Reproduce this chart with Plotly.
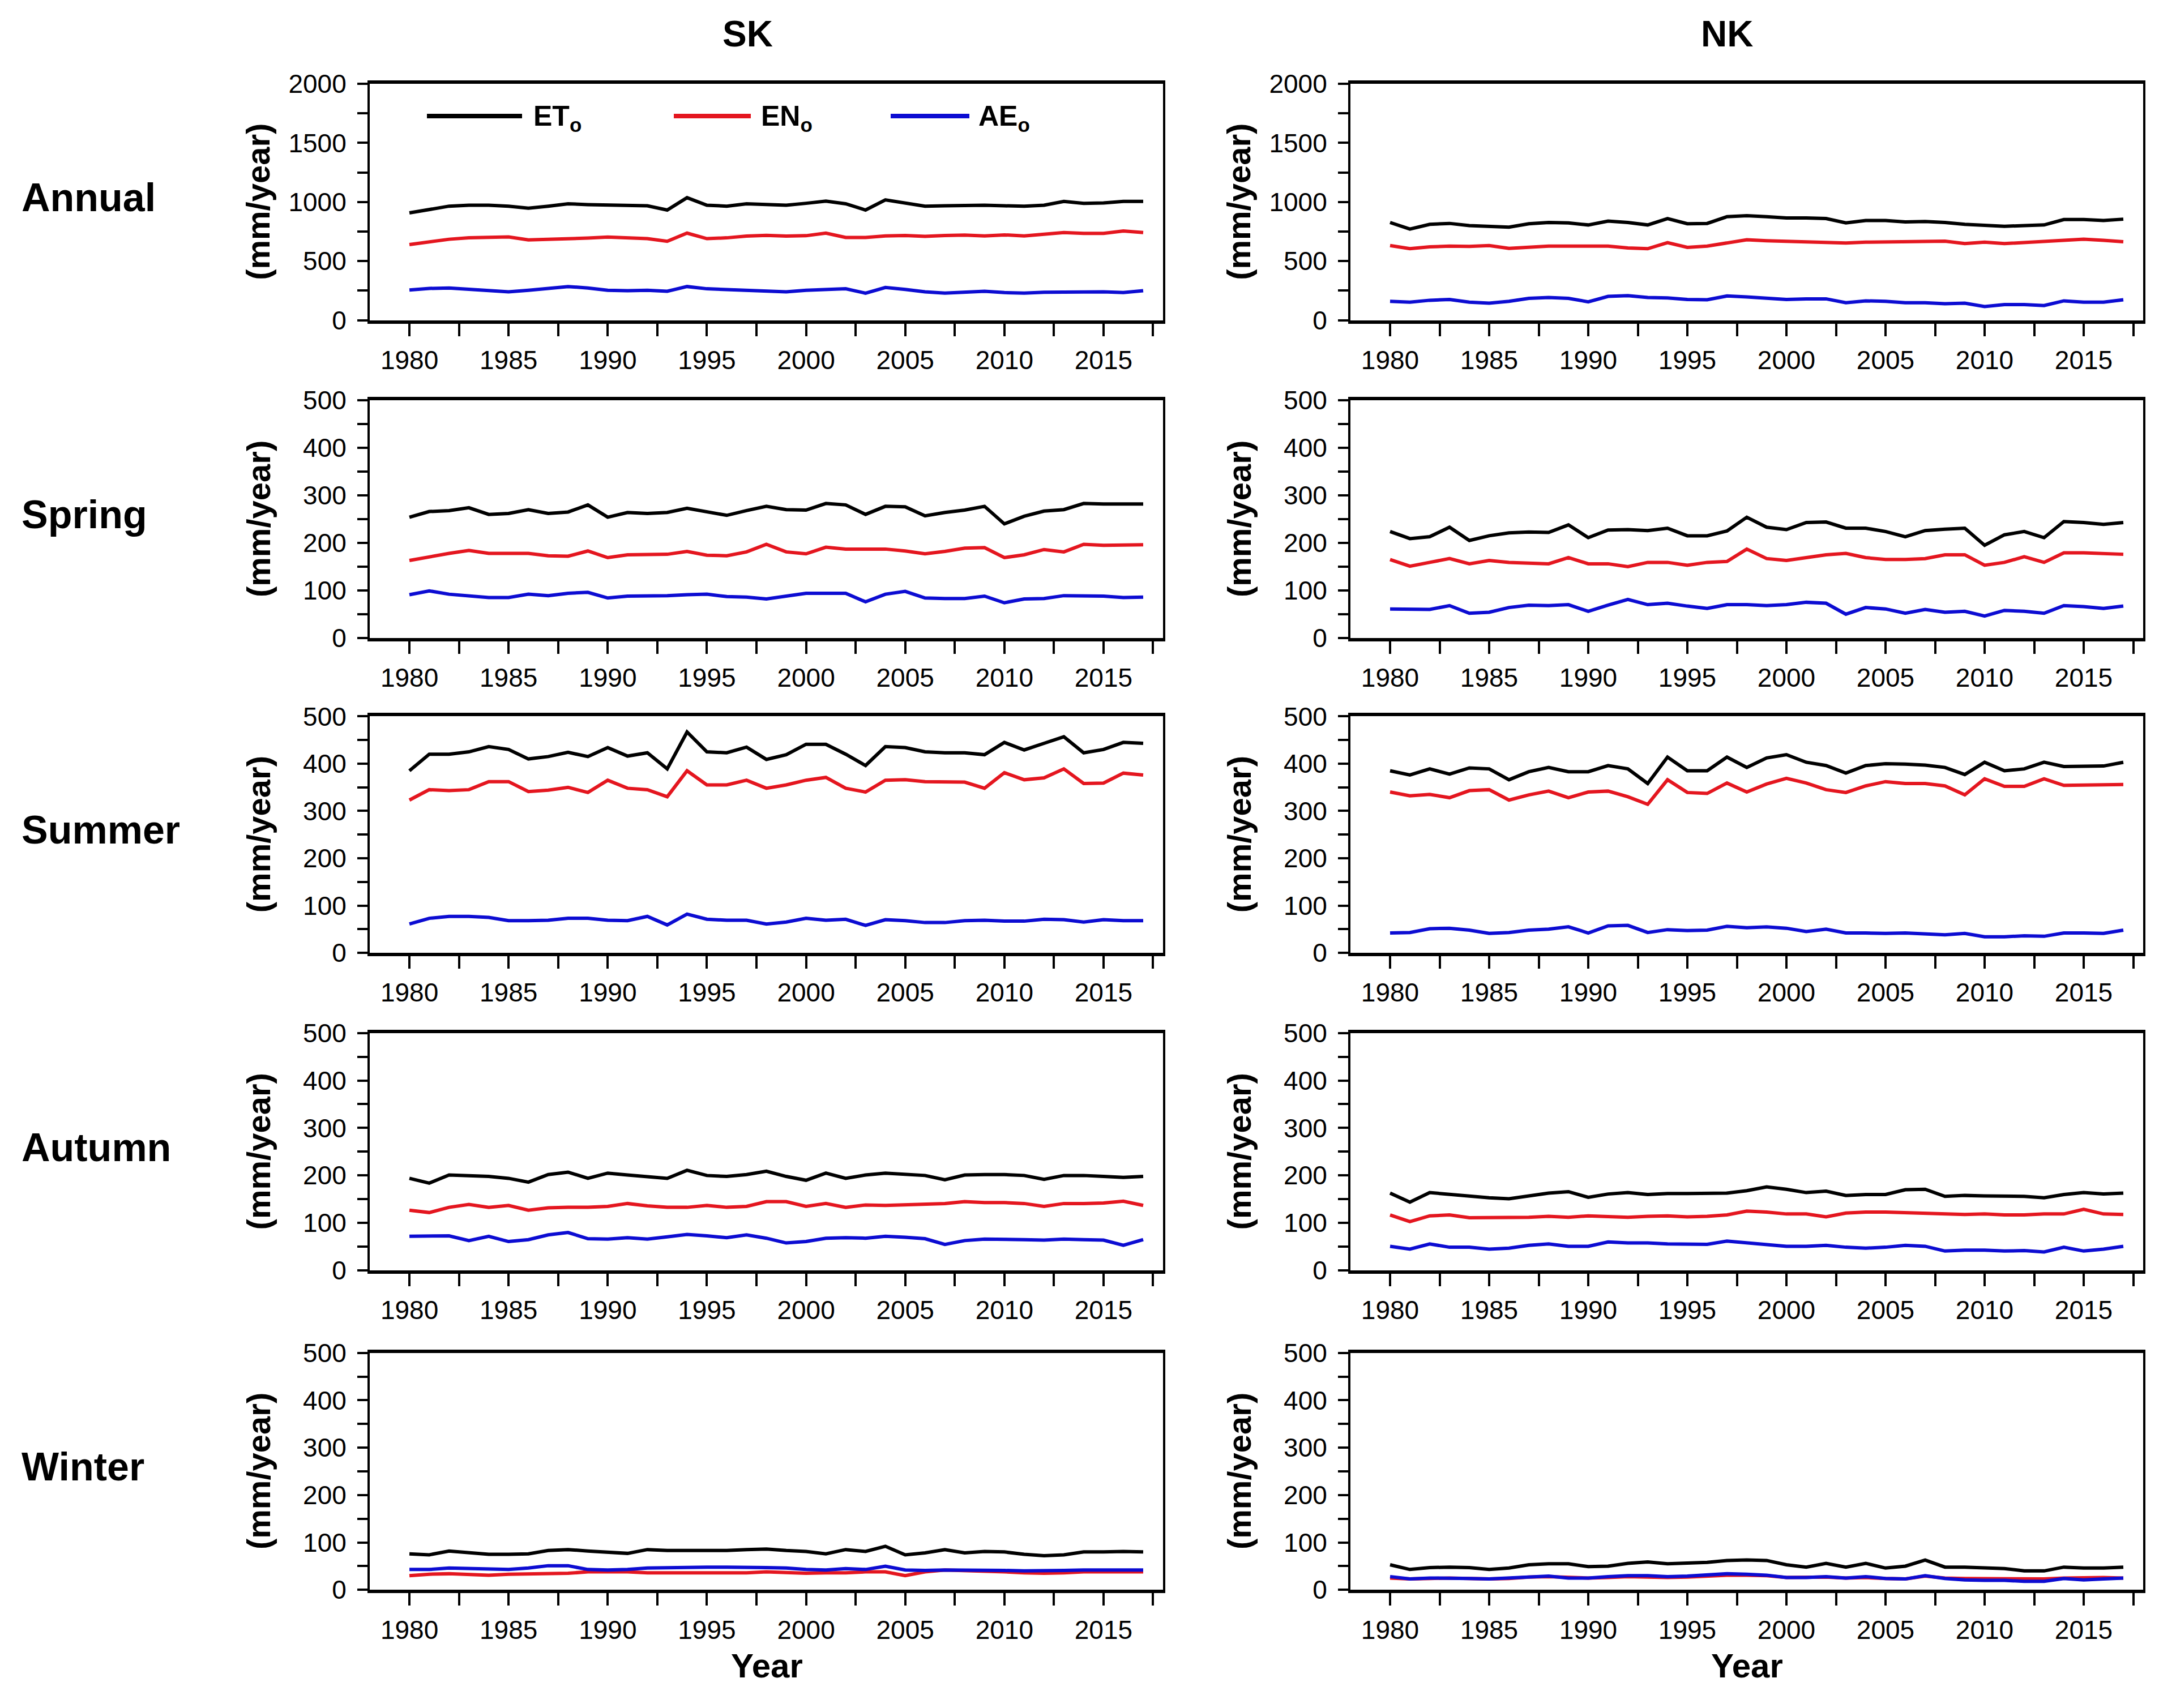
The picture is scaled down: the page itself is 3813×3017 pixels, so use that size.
import plotly.graph_objects as go

# ---------------- data ----------------
YEARS = list(range(1980, 2018))
SEASONS = ["Annual", "Spring", "Summer", "Autumn", "Winter"]
REGIONS = ["SK", "NK"]
SERIES = ["ET<sub>o</sub>", "EN<sub>o</sub>", "AE<sub>o</sub>"]
X_TICKS = [1980, 1985, 1990, 1995, 2000, 2005, 2010, 2015]

sk_annual_eto = [908, 940, 965, 973, 973, 965, 948, 965, 985, 978, 973, 973, 968, 932, 1037, 973, 965, 985, 978, 973,
                 989, 1008, 985, 932, 1018, 992, 965, 968, 973, 973, 968, 965, 973, 1005, 989, 992, 1005, 1005]
sk_annual_eno = [640, 665, 685, 697, 700, 705, 680, 683, 690, 695, 703, 695, 690, 668, 737, 690, 697, 712, 718, 712,
                 715, 737, 700, 700, 713, 717, 710, 717, 720, 713, 722, 713, 726, 742, 735, 735, 755, 742]
sk_annual_aeo = [256, 269, 273, 261, 245, 240, 253, 269, 285, 273, 253, 250, 253, 245, 285, 266, 261, 256, 245, 240,
                 253, 261, 266, 229, 277, 261, 240, 229, 234, 245, 234, 229, 237, 240, 240, 240, 234, 250]

nk_annual_eto = [827, 771, 811, 819, 800, 795, 787, 816, 827, 823, 806, 839, 827, 806, 860, 816, 819, 876, 884, 876,
                 865, 865, 860, 823, 844, 844, 832, 835, 827, 811, 800, 795, 800, 806, 852, 852, 844, 855]
nk_annual_eno = [632, 605, 621, 627, 624, 632, 608, 621, 627, 627, 624, 627, 611, 605, 656, 616, 627, 653, 681, 673,
                 669, 664, 656, 653, 660, 664, 664, 669, 669, 648, 660, 648, 656, 664, 673, 685, 676, 664]
nk_annual_aeo = [160, 153, 169, 176, 153, 144, 160, 185, 192, 185, 156, 202, 208, 192, 189, 176, 173, 205, 197, 185,
                 176, 181, 181, 148, 164, 160, 148, 148, 140, 144, 116, 132, 132, 124, 164, 153, 153, 173]

sk_spring_eto = [254, 266, 268, 274, 260, 262, 270, 262, 265, 280, 254, 264, 262, 264, 273, 265, 258, 268, 277, 270,
                 269, 283, 280, 260, 277, 276, 257, 264, 269, 277, 240, 256, 267, 270, 283, 282, 282, 282]
sk_spring_eno = [163, 171, 178, 184, 178, 178, 178, 173, 172, 183, 169, 175, 175, 176, 182, 174, 173, 181, 197, 181,
                 177, 191, 187, 187, 187, 183, 177, 182, 189, 190, 169, 175, 186, 181, 197, 195, 196, 196]
sk_spring_aeo = [91, 99, 92, 89, 85, 85, 92, 89, 94, 96, 84, 88, 88, 89, 91, 92, 87, 86, 82, 88,
                 94, 94, 94, 76, 92, 98, 84, 83, 83, 88, 74, 82, 83, 89, 88, 88, 85, 86]

nk_spring_eto = [224, 209, 213, 233, 205, 215, 221, 223, 222, 238, 211, 227, 228, 226, 231, 215, 215, 225, 254, 233,
                 228, 243, 244, 231, 231, 224, 213, 226, 229, 231, 195, 217, 224, 211, 245, 243, 239, 243]
nk_spring_eno = [165, 151, 159, 167, 156, 163, 159, 157, 156, 169, 156, 156, 150, 159, 159, 153, 159, 161, 187, 167,
                 163, 169, 175, 178, 169, 165, 165, 167, 175, 175, 153, 159, 171, 159, 179, 179, 178, 176]
nk_spring_aeo = [61, 60, 60, 68, 52, 54, 64, 69, 68, 70, 56, 69, 81, 70, 73, 67, 62, 70, 70, 68,
                 70, 75, 73, 50, 64, 61, 52, 60, 54, 56, 46, 58, 56, 52, 68, 66, 62, 67]

sk_summer_eto = [385, 420, 420, 425, 436, 430, 410, 415, 424, 415, 434, 416, 423, 389, 467, 425, 423, 435, 409, 419,
                 441, 441, 420, 396, 436, 434, 425, 423, 423, 419, 445, 429, 443, 457, 423, 430, 445, 443]
sk_summer_eno = [323, 345, 343, 345, 362, 362, 341, 344, 350, 339, 365, 348, 345, 330, 385, 355, 355, 365, 348, 355,
                 365, 371, 348, 340, 365, 366, 362, 362, 361, 348, 381, 366, 370, 389, 358, 359, 380, 376]
sk_summer_aeo = [61, 73, 77, 77, 75, 68, 68, 69, 73, 73, 69, 68, 77, 59, 82, 71, 69, 69, 61, 65,
                 73, 69, 71, 58, 70, 68, 64, 64, 68, 69, 67, 67, 71, 70, 65, 70, 68, 68]

nk_summer_eto = [385, 376, 389, 378, 391, 389, 366, 383, 392, 383, 383, 396, 389, 358, 414, 385, 385, 414, 392, 412,
                 419, 403, 396, 380, 396, 400, 399, 397, 392, 377, 403, 385, 389, 403, 394, 394, 395, 403]
nk_summer_eno = [340, 332, 335, 328, 343, 345, 323, 334, 342, 328, 340, 342, 330, 314, 366, 339, 337, 359, 340, 357,
                 369, 359, 345, 339, 353, 362, 358, 358, 353, 334, 368, 352, 352, 368, 354, 355, 355, 356]
nk_summer_aeo = [42, 43, 51, 52, 48, 41, 43, 48, 50, 55, 42, 57, 58, 43, 49, 47, 48, 56, 53, 55,
                 52, 45, 50, 42, 42, 41, 42, 40, 38, 41, 34, 34, 36, 35, 42, 42, 41, 48]

sk_autumn_eto = [194, 184, 201, 200, 198, 194, 186, 202, 207, 194, 205, 201, 198, 194, 211, 200, 198, 202, 209, 198,
                 190, 205, 194, 201, 205, 203, 200, 191, 201, 202, 202, 200, 192, 200, 200, 198, 196, 198]
sk_autumn_eno = [127, 122, 133, 139, 133, 137, 127, 132, 133, 133, 135, 141, 136, 133, 133, 137, 133, 135, 145, 145,
                 135, 141, 133, 138, 137, 138, 140, 141, 145, 143, 143, 141, 135, 141, 141, 142, 146, 137]
sk_autumn_aeo = [72, 72, 73, 63, 72, 61, 65, 75, 80, 67, 66, 69, 66, 71, 76, 73, 69, 75, 68, 58,
                 61, 68, 69, 68, 72, 70, 67, 55, 63, 66, 66, 65, 64, 66, 65, 64, 53, 65]

nk_autumn_eto = [163, 144, 164, 160, 156, 153, 151, 157, 163, 166, 154, 161, 164, 160, 162, 162, 162, 163, 168, 176,
                 171, 164, 167, 158, 160, 160, 170, 171, 156, 158, 157, 156, 156, 153, 160, 164, 161, 163]
nk_autumn_eno = [117, 103, 115, 117, 111, 111, 112, 112, 114, 112, 115, 113, 112, 114, 115, 113, 114, 117, 125, 123,
                 119, 119, 113, 121, 123, 123, 122, 120, 120, 118, 119, 117, 117, 119, 119, 129, 119, 118]
nk_autumn_aeo = [51, 45, 56, 49, 49, 45, 47, 53, 56, 51, 51, 60, 58, 58, 56, 56, 55, 62, 58, 54,
                 51, 51, 53, 49, 47, 49, 53, 51, 41, 43, 43, 41, 42, 39, 49, 41, 45, 51]

sk_winter_eto = [76, 74, 82, 78, 75, 75, 76, 83, 85, 82, 80, 77, 85, 83, 83, 83, 83, 85, 86, 83,
                 81, 76, 85, 81, 92, 74, 78, 85, 78, 81, 80, 75, 72, 74, 80, 80, 81, 80]
sk_winter_eno = [30, 33, 34, 33, 31, 33, 34, 34, 35, 38, 38, 38, 36, 36, 36, 36, 36, 36, 38, 36,
                 35, 36, 36, 38, 38, 30, 38, 42, 41, 40, 38, 36, 35, 36, 38, 38, 38, 38]
sk_winter_aeo = [43, 43, 46, 45, 43, 43, 46, 51, 51, 43, 42, 43, 46, 47, 47, 48, 48, 48, 47, 46,
                 43, 42, 45, 43, 50, 42, 41, 42, 42, 42, 41, 40, 40, 41, 42, 42, 42, 42]

nk_winter_eto = [53, 43, 47, 48, 47, 43, 46, 53, 55, 55, 49, 50, 56, 59, 55, 56, 58, 62, 63, 62,
                 53, 48, 56, 48, 56, 46, 50, 63, 48, 48, 46, 45, 40, 40, 48, 46, 46, 48]
nk_winter_eno = [25, 23, 24, 25, 24, 23, 24, 27, 28, 26, 25, 26, 28, 27, 26, 27, 29, 31, 31, 30,
                 26, 26, 27, 25, 26, 24, 23, 29, 25, 24, 24, 24, 24, 23, 25, 26, 26, 25]
nk_winter_aeo = [28, 23, 25, 25, 24, 23, 25, 28, 29, 25, 25, 28, 30, 30, 28, 29, 31, 34, 33, 31,
                 26, 26, 28, 25, 28, 24, 23, 30, 24, 21, 20, 20, 18, 18, 24, 21, 23, 25]

DATA = {
    ("Annual", "SK"): [sk_annual_eto, sk_annual_eno, sk_annual_aeo],
    ("Annual", "NK"): [nk_annual_eto, nk_annual_eno, nk_annual_aeo],
    ("Spring", "SK"): [sk_spring_eto, sk_spring_eno, sk_spring_aeo],
    ("Spring", "NK"): [nk_spring_eto, nk_spring_eno, nk_spring_aeo],
    ("Summer", "SK"): [sk_summer_eto, sk_summer_eno, sk_summer_aeo],
    ("Summer", "NK"): [nk_summer_eto, nk_summer_eno, nk_summer_aeo],
    ("Autumn", "SK"): [sk_autumn_eto, sk_autumn_eno, sk_autumn_aeo],
    ("Autumn", "NK"): [nk_autumn_eto, nk_autumn_eno, nk_autumn_aeo],
    ("Winter", "SK"): [sk_winter_eto, sk_winter_eno, sk_winter_aeo],
    ("Winter", "NK"): [nk_winter_eto, nk_winter_eno, nk_winter_aeo],
}

# ---------------- style / layout ----------------
W, H = 3813, 3017
COLORS = ["#000000", "#e4161f", "#0c0cd2"]
FONT = "Liberation Sans, Arial, Helvetica, sans-serif"
COL_X = {"SK": (645, 2046), "NK": (2377, 3777)}
ROW_Y = [(116, 541), (685, 1112), (1253, 1678), (1822, 2249), (2397, 2823)]


def fx(p):
    return p / W


def fy(p):
    return 1 - p / H


fig = go.Figure()
layout = dict(
    width=W, height=H, margin=dict(l=0, r=0, t=0, b=0),
    paper_bgcolor="white", plot_bgcolor="white",
    font=dict(family=FONT, color="black", size=46),
    showlegend=False,
)
annotations = []
shapes = []

for r, season in enumerate(SEASONS):
    top, bot = ROW_Y[r]
    annual = season == "Annual"
    for c, region in enumerate(REGIONS):
        k = r * 2 + c + 1
        xs = "x" if k == 1 else f"x{k}"
        ys = "y" if k == 1 else f"y{k}"
        for name, color, vals in zip(SERIES, COLORS, DATA[(season, region)]):
            fig.add_trace(go.Scatter(
                x=YEARS, y=vals, mode="lines", name=name,
                line=dict(color=color, width=6),
                xaxis=xs, yaxis=ys, showlegend=False,
            ))
        x0, x1 = COL_X[region]
        layout["xaxis" if k == 1 else f"xaxis{k}"] = dict(
            domain=[fx(x0), fx(x1)], anchor=ys, range=[1978, 2018],
            tickmode="array", tickvals=X_TICKS, ticktext=[str(v) for v in X_TICKS],
            ticks="outside", ticklen=22, tickwidth=4, tickcolor="black",
            showline=True, linewidth=6, linecolor="black", mirror=True,
            showgrid=False, zeroline=False, tickfont=dict(size=46),
            ticklabelstandoff=3,
            minor=dict(tick0=1980, dtick=2.5, ticks="outside", ticklen=22,
                       tickwidth=4, tickcolor="black", showgrid=False),
        )
        layout["yaxis" if k == 1 else f"yaxis{k}"] = dict(
            domain=[fy(bot), fy(top)], anchor=xs,
            range=[0, 2000] if annual else [0, 500],
            dtick=500 if annual else 100, tick0=0,
            ticks="outside", ticklen=18, tickwidth=4, tickcolor="black",
            showline=True, linewidth=4, linecolor="black", mirror=True,
            showgrid=False, zeroline=False, tickfont=dict(size=46),
            ticklabelstandoff=10,
            minor=dict(dtick=250 if annual else 50, ticks="outside", ticklen=18,
                       tickwidth=4, tickcolor="black", showgrid=False),
        )
        # y-axis title
        annotations.append(dict(
            text="<b>(mm/year)</b>", x=fx(x0 - 197), y=fy((top + bot) / 2),
            xref="paper", yref="paper", textangle=-90, showarrow=False,
            font=dict(size=58, family=FONT), xanchor="center", yanchor="middle",
        ))
    # row label
    annotations.append(dict(
        text=f"<b>{season}</b>", x=fx(28), y=fy((top + bot) / 2 - 8),
        xref="paper", yref="paper", showarrow=False, xanchor="left", yanchor="middle",
        font=dict(size=70, family=FONT),
    ))

# column titles and x-axis titles
for region, cx, yx in [("SK", 1312, 1346), ("NK", 3042, 3077)]:
    annotations.append(dict(
        text=f"<b>{region}</b>", x=fx(cx), y=fy(26), xref="paper", yref="paper",
        showarrow=False, xanchor="center", yanchor="middle", font=dict(size=64, family=FONT),
    ))
    annotations.append(dict(
        text="<b>Year</b>", x=fx(yx), y=fy(2960), xref="paper", yref="paper",
        showarrow=False, xanchor="center", yanchor="middle", font=dict(size=60, family=FONT),
    ))

# legend (inside the SK annual panel)
LEG_Y = 174
LEG = [(746, 914, 932), (1182, 1318, 1334), (1565, 1704, 1718)]
for (l0, l1, tx), name, color in zip(LEG, SERIES, COLORS):
    shapes.append(dict(type="line", xref="paper", yref="paper",
                       x0=fx(l0), x1=fx(l1), y0=fy(LEG_Y), y1=fy(LEG_Y),
                       line=dict(color=color, width=8)))
    annotations.append(dict(
        text=f"<b>{name}</b>", x=fx(tx), y=fy(LEG_Y + 4), xref="paper", yref="paper",
        showarrow=False, xanchor="left", yanchor="middle", font=dict(size=50, family=FONT),
    ))

layout["annotations"] = annotations
layout["shapes"] = shapes
fig.update_layout(**layout)
fig.write_html("out.html")
